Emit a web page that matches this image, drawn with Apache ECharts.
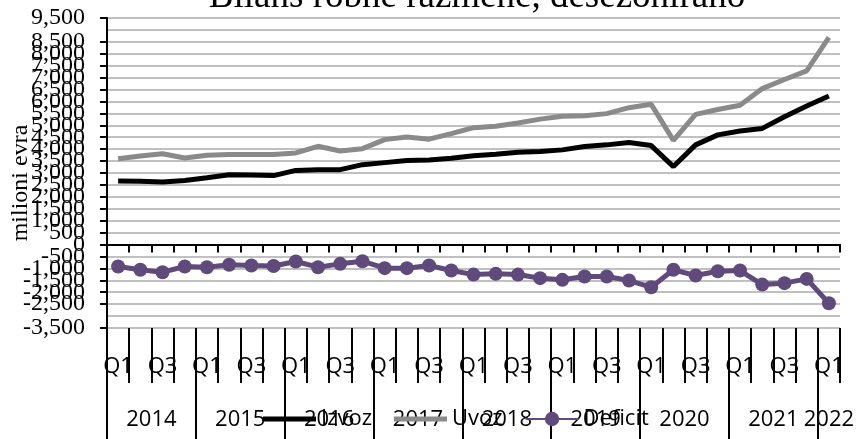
<!DOCTYPE html>
<html>
<head>
<meta charset="utf-8">
<script src="https://cdn.jsdelivr.net/npm/echarts@6/dist/echarts.min.js"></script>
<style>
  html, body { margin: 0; padding: 0; background: #fff; }
  #chart { width: 858px; height: 439px; }
</style>
</head>
<body>
<div id="chart"></div>
<script>
// kvartali 2014 Q1 - 2022 Q1
var quarters = ['Q1', 'Q2', 'Q3', 'Q4', 'Q1', 'Q2', 'Q3', 'Q4', 'Q1', 'Q2', 'Q3', 'Q4',
    'Q1', 'Q2', 'Q3', 'Q4', 'Q1', 'Q2', 'Q3', 'Q4', 'Q1', 'Q2', 'Q3', 'Q4',
    'Q1', 'Q2', 'Q3', 'Q4', 'Q1', 'Q2', 'Q3', 'Q4', 'Q1'];
var years = ['2014', '2015', '2016', '2017', '2018', '2019', '2020', '2021', '2022'];
var yearStart = [0, 4, 8, 12, 16, 20, 24, 28, 32];
var yearMid = [2, 6, 10, 14, 18, 22, 26, 30, 32.5];

var izvoz = [2660, 2650, 2620, 2690, 2800, 2930, 2915, 2890, 3110, 3140, 3140, 3350,
    3435, 3520, 3550, 3620, 3720, 3790, 3870, 3900, 3970, 4110, 4180, 4280,
    4150, 3270, 4180, 4600, 4760, 4870, 5360, 5810, 6230];
var uvoz = [3600, 3710, 3810, 3630, 3740, 3780, 3780, 3780, 3840, 4120, 3920, 4020,
    4400, 4510, 4420, 4650, 4900, 4960, 5100, 5260, 5380, 5400, 5490, 5740,
    5880, 4370, 5460, 5660, 5840, 6540, 6920, 7280, 8690];
var deficit = [-920, -1060, -1160, -920, -950, -850, -880, -900, -710, -950, -810, -700,
    -990, -990, -880, -1090, -1260, -1230, -1260, -1410, -1480, -1340, -1340, -1510,
    -1790, -1060, -1300, -1120, -1090, -1680, -1620, -1440, -2460];

var chart = echarts.init(document.getElementById('chart'));
var serif = 'Liberation Serif';
var sans = 'Open Sans';
// ikonica legende samo linija
var lineIcon = 'path://M0,0L53,0L53,5L0,5Z';

var option = {
    animation: false,
    title: {
        text: 'Bilans robne razmene, desezonirano',
        left: 472,
        textAlign: 'center',
        top: -26,
        textStyle: { fontFamily: serif, fontSize: 37, fontWeight: 'normal', color: '#000' }
    },
    legend: {
        left: 258,
        top: 403,
        itemWidth: 53,
        itemHeight: 18,
        itemGap: 22,
        textStyle: { fontFamily: sans, fontSize: 22, color: '#000' },
        data: [{ name: 'Izvoz', icon: lineIcon }, { name: 'Uvoz', icon: lineIcon }, { name: 'Deficit' }]
    },
    grid: { left: 107, right: 18, top: 18, bottom: 111, outerBoundsMode: 'none' },
    xAxis: [{
        // os na nuli
        type: 'category',
        data: quarters,
        axisLine: { onZero: true, lineStyle: { color: '#000', width: 2 } },
        axisTick: { show: true, interval: 0, length: 8, lineStyle: { color: '#000', width: 2 } },
        axisLabel: { show: false },
        splitLine: { show: false }
    }, {
        // kvartali dole
        type: 'category',
        data: quarters,
        position: 'bottom',
        axisLine: { show: false, onZero: false },
        axisTick: { show: true, interval: 0, length: 55, lineStyle: { color: '#000', width: 2 } },
        axisLabel: { interval: 1, margin: 28, fontFamily: sans, fontSize: 22, color: '#000' },
        splitLine: { show: false }
    }, {
        // godine
        type: 'value',
        min: 0,
        max: quarters.length,
        position: 'bottom',
        axisLine: { show: false, onZero: false },
        axisTick: { show: true, customValues: yearStart, length: 112, lineStyle: { color: '#000', width: 2 } },
        axisLabel: {
            customValues: yearMid,
            margin: 81,
            fontFamily: sans, fontSize: 22, color: '#000',
            formatter: function(v) {
                return years[yearMid.indexOf(v)];
            }
        },
        splitLine: { show: false }
    }],
    yAxis: {
        type: 'value',
        min: -3500,
        max: 9500,
        interval: 500,
        name: 'milioni evra',
        nameLocation: 'middle',
        nameRotate: 90,
        nameGap: 74,
        nameMoveOverlap: false,
        nameTextStyle: { fontFamily: serif, fontSize: 24, color: '#000', padding: [0, 20, 0, 0] },
        axisLine: { show: true, lineStyle: { color: '#000', width: 2 } },
        axisTick: { show: true, length: 7, lineStyle: { color: '#000', width: 2 } },
        axisLabel: {
            margin: 22,
            showMinLabel: true,
            showMaxLabel: true,
            hideOverlap: false,
            fontFamily: serif, fontSize: 24, color: '#000',
            formatter: function(v) {
                return v.toLocaleString('en-US');
            }
        },
        splitLine: { lineStyle: { color: '#c0c0c0', width: 2 } }
    },
    series: [{
        name: 'Izvoz',
        type: 'line',
        data: izvoz,
        symbol: 'none',
        lineStyle: { color: '#000', width: 5 },
        itemStyle: { color: '#000' },
        z: 3
    }, {
        name: 'Uvoz',
        type: 'line',
        data: uvoz,
        symbol: 'none',
        lineStyle: { color: '#8a8a8a', width: 5 },
        itemStyle: { color: '#8a8a8a' },
        z: 3
    }, {
        name: 'Deficit',
        type: 'line',
        data: deficit,
        symbol: 'circle',
        symbolSize: 14,
        showSymbol: true,
        showAllSymbol: true,
        lineStyle: { color: '#604a7b', width: 5 },
        itemStyle: { color: '#604a7b' },
        z: 4
    }]
};
chart.setOption(option);
</script>
</body>
</html>
